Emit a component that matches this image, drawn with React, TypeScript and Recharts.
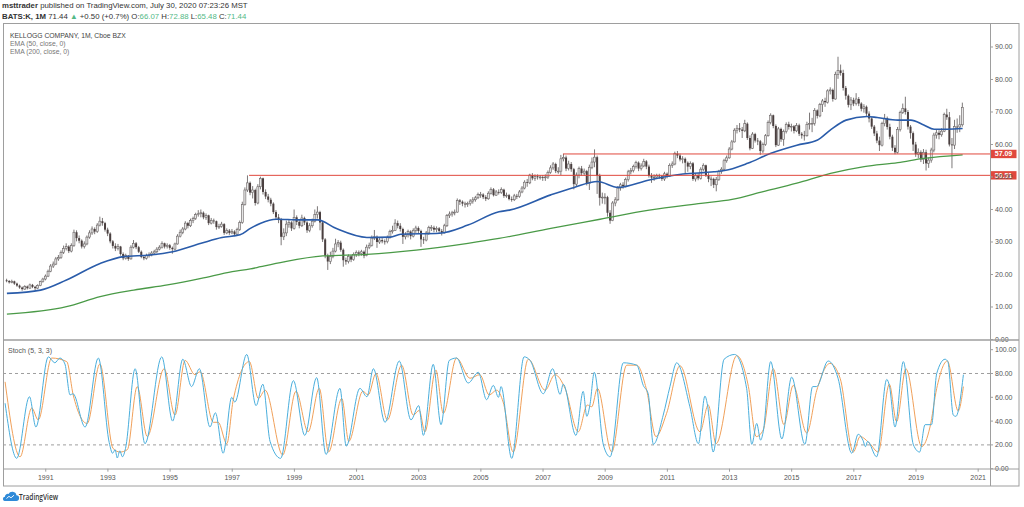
import React from "react";
import { ComposedChart, Bar, Line, XAxis, YAxis, ReferenceLine } from "recharts";

// Kellogg (K) monthly bars, Oct 1989 .. Jul 2020 (month index 0 = Oct 1989).
// open of each bar = previous close; the first bar opens at FIRST_OPEN.
const FIRST_OPEN = 18.2;

const closes = [
  18.0, 17.6, 17.9, // 1989
  17.2, 16.6, 16.0, 15.5, 16.3, 15.8, 16.8, 16.2, 15.8, 16.6, 17.8, 18.6, // 1990
  19.5, 21.0, 22.6, 23.2, 24.8, 25.2, 26.8, 28.0, 28.6, 27.2, 28.9, 33.0, // 1991
  31.2, 30.4, 28.6, 29.4, 31.5, 32.8, 34.0, 33.2, 35.2, 36.4, 35.8, 33.8, // 1992
  32.6, 30.2, 28.8, 28.0, 28.6, 26.3, 25.0, 25.8, 24.8, 28.4, 29.6, 28.4, // 1993
  27.0, 25.4, 25.0, 25.8, 26.0, 26.6, 27.0, 27.8, 28.4, 29.6, 28.6, 29.0, // 1994
  28.2, 27.8, 29.4, 31.8, 33.0, 34.0, 35.8, 35.0, 36.6, 37.2, 38.4, 38.7, // 1995
  39.0, 37.6, 38.2, 35.8, 36.6, 36.4, 34.6, 34.8, 35.5, 32.8, 33.5, 32.8, // 1996
  33.2, 32.4, 33.8, 36.0, 41.5, 46.0, 48.2, 45.2, 46.0, 42.0, 47.0, 49.6, // 1997
  45.4, 44.0, 43.0, 41.8, 39.2, 37.6, 37.0, 31.6, 32.8, 35.5, 36.0, 34.2, // 1998
  37.6, 36.2, 35.0, 37.4, 36.0, 33.6, 35.0, 36.4, 38.4, 39.2, 36.0, 30.8, // 1999
  25.8, 24.0, 25.6, 27.2, 29.4, 29.8, 27.6, 24.4, 24.0, 25.6, 24.6, 26.2, // 2000
  26.8, 26.4, 27.0, 25.8, 28.4, 29.0, 31.2, 31.6, 30.0, 30.6, 30.2, 30.1, // 2001
  31.4, 33.2, 33.6, 35.8, 35.0, 34.0, 31.6, 32.2, 33.2, 31.8, 33.6, 34.3, // 2002
  33.4, 30.8, 30.6, 32.8, 34.4, 34.4, 33.8, 34.2, 33.4, 32.8, 35.0, 38.1, // 2003
  38.6, 39.0, 39.2, 42.8, 42.4, 41.8, 41.6, 41.8, 42.6, 43.0, 43.6, 44.6, // 2004
  44.6, 43.8, 43.3, 45.0, 46.2, 44.4, 45.4, 45.2, 46.1, 44.2, 44.4, 43.2, // 2005
  43.0, 44.2, 44.0, 45.4, 46.6, 48.4, 48.2, 50.6, 49.6, 50.2, 50.0, 50.0, // 2006
  49.8, 50.0, 51.4, 52.8, 54.0, 51.8, 51.8, 55.6, 56.0, 52.6, 54.0, 52.4, // 2007
  47.8, 50.6, 52.6, 51.2, 51.8, 48.0, 53.0, 54.6, 56.1, 50.4, 43.6, 43.8, // 2008
  43.8, 39.0, 36.6, 42.0, 43.0, 46.6, 47.6, 47.2, 49.2, 51.6, 52.0, 53.2, // 2009
  54.4, 52.6, 53.4, 54.8, 53.2, 50.3, 49.8, 50.0, 50.4, 50.2, 49.4, 51.0, // 2010
  50.2, 53.6, 54.0, 57.2, 56.6, 55.4, 55.6, 54.4, 53.2, 54.2, 49.4, 50.6, // 2011
  49.6, 52.4, 53.6, 50.6, 49.4, 49.4, 47.6, 49.2, 51.7, 52.4, 55.0, 55.9, // 2012
  58.6, 60.8, 64.4, 65.0, 64.6, 64.2, 66.4, 62.0, 58.8, 63.2, 61.2, 61.0, // 2013
  58.0, 60.0, 62.7, 66.8, 69.0, 65.7, 59.8, 64.8, 61.6, 64.0, 66.2, 65.4, // 2014
  65.6, 64.2, 65.9, 63.3, 62.8, 62.7, 66.2, 66.4, 66.5, 70.5, 68.8, 72.3, // 2015
  73.4, 73.0, 76.5, 76.8, 74.0, 81.6, 82.8, 82.0, 77.4, 75.0, 72.2, 73.7, // 2016
  72.6, 74.0, 72.6, 71.0, 71.6, 69.5, 68.0, 65.5, 63.4, 61.2, 59.8, 66.4, // 2017
  68.1, 65.4, 62.4, 59.0, 57.6, 64.6, 69.9, 71.1, 70.0, 65.5, 63.5, 60.0, // 2018
  57.0, 57.6, 55.4, 57.6, 54.2, 55.2, 58.3, 62.9, 63.6, 63.0, 64.1, 69.2, // 2019
  68.4, 60.0, 59.8, 65.5, 65.4, 66.07, 71.44, // 2020
];

const highs = [
  18.7, 18.3, 18.4,
  18.1, 17.5, 16.9, 16.3, 16.7, 16.6, 17.2, 17.1, 16.5, 17.0, 18.1, 19.0,
  20.0, 21.5, 23.2, 24.0, 25.4, 26.0, 27.4, 28.9, 29.6, 29.0, 29.6, 33.8,
  33.6, 32.0, 30.8, 30.2, 32.0, 33.6, 34.8, 34.5, 35.8, 37.8, 37.4, 36.2,
  34.4, 33.0, 30.6, 29.6, 29.4, 28.8, 26.8, 26.4, 26.0, 29.0, 30.6, 30.0,
  28.8, 27.4, 26.0, 26.4, 26.8, 27.2, 27.6, 28.4, 29.0, 30.2, 29.8, 29.6,
  29.4, 28.6, 29.8, 32.4, 33.8, 34.6, 36.4, 36.2, 37.2, 37.8, 39.0, 39.8,
  40.0, 39.4, 38.8, 38.4, 37.4, 37.2, 36.6, 35.6, 36.2, 35.8, 34.2, 34.0,
  34.0, 33.6, 34.4, 36.6, 42.4, 46.8, 50.5, 48.6, 47.2, 46.4, 47.8, 50.1,
  49.8, 46.2, 44.8, 43.6, 42.2, 39.8, 38.6, 37.4, 34.2, 36.6, 37.0, 36.4,
  40.0, 38.2, 36.8, 38.4, 37.8, 36.4, 35.8, 37.2, 40.0, 41.0, 39.6, 36.4,
  31.2, 26.4, 27.0, 28.2, 31.0, 30.6, 30.4, 28.0, 25.2, 26.2, 26.0, 26.8,
  27.4, 27.4, 27.6, 27.4, 29.2, 29.8, 32.0, 33.7, 32.0, 31.4, 31.2, 30.8,
  32.0, 33.8, 35.0, 37.0, 36.6, 35.8, 34.4, 33.0, 33.8, 33.6, 34.2, 35.0,
  34.8, 33.8, 31.6, 33.4, 35.0, 35.2, 35.0, 34.8, 34.6, 34.0, 35.6, 38.6,
  39.4, 39.6, 40.0, 43.4, 43.2, 42.8, 42.4, 42.4, 43.2, 43.8, 44.2, 45.2,
  45.4, 45.0, 44.4, 45.6, 46.8, 46.6, 46.0, 46.2, 46.8, 46.4, 45.2, 44.8,
  44.0, 44.8, 44.8, 46.0, 47.2, 49.0, 49.4, 51.0, 51.2, 50.8, 50.8, 50.6,
  50.6, 50.8, 52.0, 53.6, 54.6, 54.4, 53.0, 56.8, 57.1, 56.6, 55.0, 54.6,
  52.8, 51.4, 53.2, 53.4, 52.6, 52.2, 53.8, 56.0, 58.5, 56.6, 51.0, 45.2,
  45.0, 44.2, 39.8, 42.6, 43.8, 47.2, 48.2, 48.4, 49.8, 52.2, 52.8, 53.8,
  55.0, 54.8, 54.2, 55.6, 55.2, 53.8, 51.2, 50.8, 51.0, 51.0, 50.6, 51.6,
  51.4, 54.2, 54.8, 57.8, 58.0, 57.2, 56.4, 56.0, 54.8, 54.8, 54.6, 51.2,
  51.2, 53.0, 54.2, 53.8, 51.2, 50.2, 49.8, 50.0, 52.2, 53.0, 55.6, 56.6,
  59.2, 61.4, 65.0, 66.0, 66.6, 65.4, 67.6, 66.8, 62.8, 63.8, 63.6, 62.0,
  61.4, 60.6, 63.2, 67.4, 69.6, 69.2, 66.2, 65.4, 65.2, 64.6, 66.8, 67.0,
  66.4, 66.0, 66.6, 66.4, 63.8, 64.2, 67.0, 69.8, 68.2, 71.2, 70.8, 72.8,
  74.0, 74.4, 77.0, 77.6, 77.2, 82.4, 87.0, 84.6, 83.0, 78.0, 75.4, 74.6,
  74.4, 75.8, 74.6, 73.0, 72.4, 72.0, 70.2, 68.4, 66.0, 64.2, 62.4, 67.0,
  69.4, 68.6, 66.4, 63.0, 59.8, 65.4, 70.4, 72.6, 74.7, 70.6, 66.0, 64.0,
  60.8, 58.8, 58.2, 58.6, 58.4, 56.0, 59.0, 63.6, 64.6, 64.4, 65.0, 69.8,
  71.0, 70.0, 62.0, 67.6, 68.0, 69.0, 72.88,
];

const lows = [
  17.6, 17.2, 17.3,
  16.8, 16.2, 15.6, 15.0, 15.3, 15.4, 15.6, 15.8, 15.2, 15.5, 16.4, 17.5,
  18.2, 19.2, 20.7, 22.0, 22.9, 24.2, 24.8, 26.3, 27.4, 26.6, 26.8, 28.5,
  30.2, 29.6, 28.0, 28.0, 29.0, 31.0, 32.2, 32.4, 32.8, 34.8, 35.0, 33.2,
  31.8, 29.6, 28.0, 27.2, 27.4, 25.8, 24.4, 24.6, 24.2, 24.6, 28.0, 27.8,
  26.6, 25.0, 24.4, 24.6, 25.2, 25.6, 26.0, 26.6, 27.4, 28.0, 28.0, 28.0,
  27.6, 26.4, 27.4, 29.2, 31.4, 32.4, 33.6, 34.2, 34.6, 35.8, 36.8, 37.8,
  37.6, 37.0, 36.8, 35.2, 35.4, 35.6, 33.8, 34.0, 34.4, 32.2, 32.4, 32.2,
  32.4, 31.8, 32.0, 33.4, 35.6, 41.2, 45.4, 44.4, 43.4, 41.2, 41.6, 46.2,
  44.6, 43.2, 42.2, 41.0, 38.6, 36.8, 35.8, 29.0, 30.6, 31.8, 34.4, 33.4,
  33.8, 35.2, 34.2, 34.6, 35.2, 32.8, 33.0, 34.4, 36.0, 37.2, 33.6, 30.0,
  25.0, 21.4, 23.2, 25.0, 26.8, 28.4, 27.0, 22.4, 23.0, 23.4, 23.8, 24.2,
  25.4, 25.6, 25.8, 25.0, 25.6, 27.8, 28.6, 30.6, 28.2, 29.4, 29.6, 29.2,
  29.6, 31.0, 32.6, 33.4, 34.2, 33.2, 29.4, 30.8, 31.4, 30.8, 31.4, 32.8,
  32.6, 28.5, 29.4, 30.2, 32.2, 33.4, 33.0, 33.0, 32.8, 32.0, 32.6, 34.6,
  37.4, 37.8, 38.2, 39.0, 41.4, 41.0, 40.6, 40.8, 41.2, 41.8, 42.4, 43.2,
  43.6, 43.2, 42.6, 43.0, 44.6, 44.0, 44.2, 44.6, 44.8, 43.6, 43.6, 42.8,
  42.4, 42.6, 43.2, 43.6, 45.0, 46.2, 47.0, 47.8, 49.0, 48.8, 49.2, 49.2,
  48.8, 48.8, 49.4, 51.0, 52.2, 51.2, 51.0, 50.6, 54.8, 51.8, 52.0, 51.6,
  46.2, 47.2, 49.6, 50.4, 50.4, 47.4, 46.0, 52.4, 53.0, 44.8, 41.2, 41.8,
  41.6, 37.8, 35.6, 36.4, 41.0, 42.6, 45.8, 46.4, 46.8, 48.6, 50.8, 51.4,
  52.6, 51.8, 52.0, 53.0, 52.4, 49.8, 48.2, 48.8, 49.4, 49.4, 48.8, 48.8,
  49.6, 50.0, 52.8, 53.6, 55.8, 54.8, 54.2, 51.0, 51.6, 52.4, 48.8, 48.6,
  49.0, 49.2, 51.8, 50.0, 48.4, 47.2, 46.6, 45.6, 48.8, 51.0, 52.0, 54.4,
  55.6, 58.2, 60.6, 63.4, 63.8, 62.0, 63.8, 61.4, 58.2, 58.6, 60.6, 59.8,
  56.8, 57.4, 59.6, 62.4, 66.2, 65.0, 59.2, 59.6, 60.8, 59.6, 63.4, 64.6,
  64.0, 63.4, 63.8, 62.6, 61.8, 61.2, 62.4, 64.6, 63.8, 65.8, 68.0, 68.4,
  70.0, 71.6, 72.6, 75.4, 73.2, 73.8, 80.2, 81.2, 76.6, 73.8, 71.4, 70.6,
  71.8, 72.0, 71.8, 70.2, 69.8, 68.8, 66.8, 64.8, 62.6, 60.4, 58.0, 59.4,
  65.6, 64.6, 61.6, 58.0, 57.0, 57.2, 64.0, 69.4, 69.2, 64.6, 61.8, 58.0,
  56.2, 55.8, 54.6, 54.0, 52.0, 52.8, 54.4, 57.6, 61.8, 61.6, 62.4, 63.8,
  67.6, 59.4, 52.7, 58.6, 63.6, 63.8, 65.48,
];

// EMA readings [month index, value]
const ema50Pts = [
  [0, 14.2], [13, 15.2], [23, 18.3], [36, 23.4], [45, 25.5], [55, 26.0], [64, 27.0],
  [75, 29.6], [83, 31.4], [90, 32.2], [94, 34.2], [98, 35.8], [104, 37.0], [113, 36.8],
  [120, 36.8], [127, 34.2], [139, 31.4], [148, 31.5], [152, 32.4], [167, 32.7], [178, 35.2],
  [190, 39.3], [194, 39.8], [210, 44.5], [219, 46.8], [228, 48.6], [236, 46.8], [248, 49.1],
  [261, 50.9], [273, 51.6], [279, 52.3], [286, 54.2], [295, 57.3], [305, 59.8], [313, 61.4],
  [318, 64.5], [324, 67.5], [332, 68.6], [336, 68.3], [344, 67.5], [349, 67.5], [354, 66.0],
  [358, 64.7], [363, 64.7], [369, 64.9],
];

const ema200Pts = [
  [0, 7.8], [23, 10.1], [36, 13.2], [49, 15.2], [62, 16.8], [75, 18.8], [87, 20.9],
  [94, 21.7], [98, 22.4], [107, 23.9], [122, 25.7], [139, 26.2], [158, 27.5], [178, 29.6],
  [190, 31.1], [210, 34.2], [229, 37.0], [248, 39.8], [268, 41.9], [280, 43.1], [292, 45.5],
  [305, 48.1], [318, 51.1], [331, 53.2], [344, 54.4], [354, 55.7], [369, 56.8],
];

// Stoch (5,3,3) readings [month index, value]
const stochK = [
  [-0.7, 55], [3.8, 8.7], [8.7, 60.5], [11.2, 35], [16, 94], [18.5, 89], [20.5, 93], [22.4, 88],
  [24.4, 62], [25.5, 63], [30.2, 35], [35.3, 93], [39.5, 22], [40.8, 13], [41.8, 16], [42.6, 9],
  [43.6, 15], [44.6, 10], [45.8, 17], [49.5, 84], [53.3, 21], [59.8, 94], [64, 40], [67.9, 92],
  [71.3, 69], [74.3, 84], [78.4, 35], [80.5, 47], [83.5, 13], [86.8, 60], [88, 56], [92.6, 96],
  [96.2, 53], [98.8, 71], [101.6, 23], [105.7, 8.7], [110.6, 74], [115, 28], [119.6, 76.5],
  [123.2, 12], [128.6, 67.5], [131, 19], [136.3, 67.5], [139, 60.5], [141.5, 84], [146, 39],
  [151.5, 90.5], [156, 41], [159, 53], [160.8, 28], [164.6, 87.7], [167.6, 37], [170.8, 91],
  [173.6, 93], [178.1, 72], [182, 81], [185.2, 58], [187.8, 70], [189.8, 60], [190.8, 69],
  [194.9, 8.7], [199.7, 94], [202, 91], [207.1, 63], [210.7, 84], [213.6, 62.5], [214.8, 71],
  [219.7, 28], [222.5, 65], [223.9, 44], [225.1, 53.5], [226.8, 81], [230.3, 20], [232.9, 10],
  [238, 89], [243.2, 87], [245.7, 70], [247.6, 63], [249.6, 20.5], [253.4, 45], [256, 69],
  [258.6, 89], [263.7, 52], [267, 21], [269.5, 61], [270.5, 53.5], [272.7, 14], [276.9, 92],
  [281, 96], [285.6, 67.5], [287.6, 20.5], [289.5, 38], [291, 24], [292, 31], [294.9, 90],
  [299.2, 25], [303, 77], [308.1, 20.5], [311.1, 69], [312.6, 69], [317.1, 90.5], [320.9, 76],
  [326.2, 13], [328.7, 29], [330.5, 24], [331.5, 18.5], [332.3, 23], [335.8, 10], [339.7, 75],
  [340.7, 70], [342.9, 35], [346.1, 90], [350, 20], [352.4, 14], [354.5, 37], [357, 37],
  [359, 80], [362.2, 92], [363.3, 90], [365.4, 45], [366.4, 44], [369.3, 79],
];

const stochD = [
  [-0.7, 73], [5.1, 10], [9.6, 51], [12.1, 41], [17.3, 93], [23.1, 90], [25.6, 62], [31, 38],
  [35.9, 88], [41, 17], [43.7, 14], [46.5, 16], [50.3, 69], [54.2, 27], [60.7, 84], [64.9, 45],
  [68.8, 91], [72.6, 79], [74.6, 81.5], [79.7, 39], [81.6, 39], [84.9, 21], [87.4, 58],
  [93.6, 90], [97.1, 59], [99.7, 66], [106.5, 11.5], [111.6, 65], [116.3, 31], [120.6, 67.5],
  [124.2, 14], [129.3, 59], [132, 23], [137.4, 65], [139.5, 62], [142.5, 80], [146.9, 41],
  [152.4, 87], [156.9, 45], [159.2, 49], [161.4, 31], [165.6, 83], [168.5, 46.5], [173.6, 93],
  [178.8, 76], [182.6, 79], [186.2, 62], [189.1, 66], [191.6, 56], [195.5, 14], [201.3, 92],
  [207.8, 66], [211.6, 79], [215.5, 67.5], [220.6, 31], [224.1, 53.5], [225.8, 52], [228, 67.5],
  [233.5, 14], [239.3, 87], [243.2, 87], [247, 66], [250.6, 27], [254.7, 46.5], [259.9, 86.5],
  [267.6, 31], [270.8, 53.5], [273.8, 21], [281.8, 95], [286.3, 69], [289.3, 27], [292, 32.5],
  [295.9, 84], [300, 37], [303.6, 70], [308.8, 30], [312.7, 66], [317.8, 88.5], [321.7, 76],
  [326.8, 14], [329.4, 27], [333.2, 21], [336.4, 14], [340.7, 71], [343.5, 39.5], [347.1, 84],
  [353.2, 18.5], [356.4, 35], [359, 67.5], [363.1, 90.5], [367.3, 48.5], [369.3, 69],
];

// horizontal levels drawn by the author, and the bar they start from
const levelValues = [57.09, 50.51];
const levelStarts = [214.7, 93.5];

const priceTicks = [0, 10, 20, 30, 40, 50, 60, 70, 80, 90];
const stochTicks = [0, 20, 40, 60, 80, 100];
const yearTicks = [1991, 1993, 1995, 1997, 1999, 2001, 2003, 2005, 2007, 2009, 2011, 2013, 2015, 2017, 2019, 2021];

const X_DOMAIN = [-1.313, 379.57];
const FONT = '"Open Sans", "DejaVu Sans", sans-serif';
const SMALL = '"Liberation Sans", Arial, sans-serif';
const AXIS_GRAY = "#9e9e9e";
const TEXT = "#555";
const TEAL = "#53b987";

const monthOf = (year: number) => (year - 1990) * 12 + 3;

const priceRows = closes.map((c, i) => ({
  x: i,
  o: i === 0 ? FIRST_OPEN : closes[i - 1],
  h: highs[i],
  l: lows[i],
  c,
  range: [lows[i], highs[i]],
  e50: null as number | null,
  e200: null as number | null,
}));
ema50Pts.forEach(([i, v]) => (priceRows[i].e50 = v));
ema200Pts.forEach(([i, v]) => (priceRows[i].e200 = v));

const stochMap = new Map<number, { x: number; k?: number; d?: number }>();
stochK.forEach(([x, v]) => stochMap.set(x, { ...(stochMap.get(x) || { x }), k: v }));
stochD.forEach(([x, v]) => stochMap.set(x, { ...(stochMap.get(x) || { x }), d: v }));
const stochRows = [...stochMap.values()].sort((a, b) => a.x - b.x);

// hollow light body for up months, dark body for down months
function Candle(props: any) {
  const { x, y, width, height, payload } = props;
  if (!payload || x == null || y == null) return null;
  const { o, h, l, c } = payload;
  const top = Math.min(y, y + height);
  const span = Math.abs(height);
  const k = h > l ? span / (h - l) : 0;
  const py = (v: number) => top + (h - v) * k;
  const cx = x + width / 2;
  const up = c >= o;
  const bodyTop = py(Math.max(o, c));
  const bodyH = Math.max(0.8, Math.abs(py(o) - py(c)));
  return (
    <g>
      <line x1={cx} x2={cx} y1={top} y2={top + span} stroke="#5a5555" strokeWidth={0.8} />
      <rect
        x={cx - 1}
        y={bodyTop}
        width={2}
        height={bodyH}
        fill={up ? "#e6e6e6" : "#4a3f3f"}
        stroke={up ? "#6a6464" : "none"}
        strokeWidth={0.6}
      />
    </g>
  );
}

function LevelTag(props: any) {
  const { viewBox, value } = props;
  if (!viewBox) return null;
  const right = viewBox.x + viewBox.width;
  const cy = viewBox.y;
  return (
    <g>
      <rect x={right + 0.5} y={cy - 4.2} width={26} height={8.4} fill="#e0483d" />
      <text x={right + 13.5} y={cy + 2.5} textAnchor="middle" fontSize={7} fontWeight={700} fill="#fff" fontFamily={SMALL}>
        {value.toFixed(2)}
      </text>
    </g>
  );
}

export default function App() {
  const tick = { fontSize: 7, fill: TEXT, fontFamily: SMALL };
  return (
    <div style={{ position: "absolute", left: 0, top: 0, width: 1024, height: 507, background: "#fff", fontFamily: FONT }}>
      <div style={{ position: "absolute", left: 0, top: 0 }}>
        <ComposedChart width={1024} height={507} data={priceRows} margin={{ top: 23.5, right: 4, bottom: 167.5, left: 3.5 }}>
          <XAxis type="number" dataKey="x" domain={X_DOMAIN} allowDataOverflow hide />
          <YAxis
            orientation="right"
            type="number"
            domain={[0, 97.23]}
            allowDataOverflow
            ticks={priceTicks}
            interval={0}
            width={30}
            axisLine={false}
            tickLine={{ stroke: AXIS_GRAY }}
            tickSize={3}
            tickMargin={2}
            tick={tick}
            tickFormatter={(v: number) => v.toFixed(2)}
          />
          <Bar dataKey="range" barSize={2} shape={Candle} isAnimationActive={false} />
          <Line dataKey="e200" type="monotone" stroke="#4a9a47" strokeWidth={1.3} dot={false} connectNulls isAnimationActive={false} />
          <Line dataKey="e50" type="monotone" stroke="#2a5caa" strokeWidth={1.6} dot={false} connectNulls isAnimationActive={false} />
          {levelValues.map((v, i) => (
            <ReferenceLine
              key={v}
              segment={[{ x: levelStarts[i], y: v }, { x: X_DOMAIN[1], y: v }]}
              stroke="#e0483d"
              strokeWidth={1}
              ifOverflow="visible"
              label={<LevelTag value={v} />}
            />
          ))}
        </ComposedChart>
      </div>

      <div style={{ position: "absolute", left: 0, top: 0 }}>
        <ComposedChart width={1024} height={507} data={stochRows} margin={{ top: 340.5, right: 4, bottom: 21.3, left: 3.5 }}>
          <XAxis
            type="number"
            dataKey="x"
            domain={X_DOMAIN}
            allowDataOverflow
            ticks={yearTicks.map(monthOf)}
            interval={0}
            height={17}
            axisLine={false}
            tickLine={{ stroke: AXIS_GRAY }}
            tickSize={3}
            tickMargin={3}
            tick={tick}
            tickFormatter={(i: number) => String(Math.round(1990 + (i - 3) / 12))}
          />
          <YAxis
            orientation="right"
            type="number"
            domain={[0, 107.73]}
            allowDataOverflow
            ticks={stochTicks}
            interval={0}
            width={30}
            axisLine={false}
            tickLine={{ stroke: AXIS_GRAY }}
            tickSize={3}
            tickMargin={2}
            tick={tick}
            tickFormatter={(v: number) => v.toFixed(2)}
          />
          <ReferenceLine y={80} stroke={AXIS_GRAY} strokeDasharray="3 3" />
          <ReferenceLine y={20} stroke={AXIS_GRAY} strokeDasharray="3 3" />
          <Line dataKey="d" type="monotone" stroke="#f0a05a" strokeWidth={1} dot={false} connectNulls isAnimationActive={false} />
          <Line dataKey="k" type="monotone" stroke="#4aaedc" strokeWidth={1} dot={false} connectNulls isAnimationActive={false} />
        </ComposedChart>
      </div>

      <svg width={1024} height={507} style={{ position: "absolute", left: 0, top: 0, pointerEvents: "none" }}>
        <rect x={3.5} y={23.5} width={1015.5} height={462.5} fill="none" stroke={AXIS_GRAY} />
        <line x1={3.5} x2={1019} y1={340} y2={340} stroke={AXIS_GRAY} strokeWidth={1.5} />
        <line x1={3.5} x2={1019} y1={469} y2={469} stroke={AXIS_GRAY} />
        <line x1={990.5} x2={990.5} y1={23.5} y2={486} stroke={AXIS_GRAY} />

        <text x={2} y={8.2} fontSize={7.8} fill="#333" fontFamily={SMALL}>
          <tspan fontWeight={700}>msttrader</tspan> published on TradingView.com, July 30, 2020 07:23:26 MST
        </text>
        <text x={2} y={19} fontSize={7.8} fill="#333" fontFamily={SMALL}>
          <tspan fontWeight={700}>BATS:K, 1M</tspan> 71.44 <tspan fill={TEAL}>▲</tspan> +0.50 (+0.7%) O:<tspan fill={TEAL}>66.07</tspan> H:
          <tspan fill={TEAL}>72.88</tspan> L:<tspan fill={TEAL}>65.48</tspan> C:<tspan fill={TEAL}>71.44</tspan>
        </text>

        <text x={10} y={38.4} fontSize={6.8} fill="#444" fontFamily={SMALL}>
          KELLOGG COMPANY, 1M, Cboe BZX
        </text>
        <text x={10} y={46.3} fontSize={6.8} fill="#777" fontFamily={SMALL}>
          EMA (50, close, 0)
        </text>
        <text x={10} y={54.2} fontSize={6.8} fill="#777" fontFamily={SMALL}>
          EMA (200, close, 0)
        </text>
        <text x={8} y={352.6} fontSize={7} fill="#555" fontFamily={SMALL}>
          Stoch (5, 3, 3)
        </text>

        <g>
          <path
            d="M4.5 501 h11.5 a2.9 2.9 0 0 0 0.4-5.8 a4.2 4.2 0 0 0-7.9-1.2 a2.8 2.8 0 0 0-3.6 2.7 a2.2 2.2 0 0 0-0.4 4.3z"
            fill="#2f8ad8"
          />
          <path d="M6.5 498.5 l2.5-2.2 l2 1.5 l3-2.6" fill="none" stroke="#fff" strokeWidth={0.9} />
          <text x={19} y={500} fontSize={8.5} fill="#333" fontWeight={600} fontFamily={FONT} textLength={39} lengthAdjust="spacingAndGlyphs">
            TradingView
          </text>
        </g>
      </svg>
    </div>
  );
}
